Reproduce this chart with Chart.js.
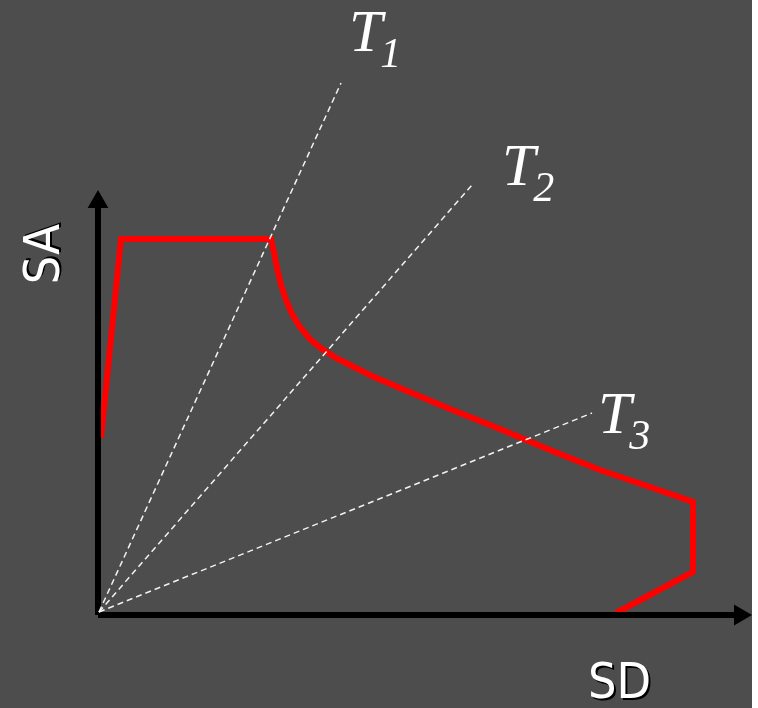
<!DOCTYPE html>
<html>
<head>
<meta charset="utf-8">
<script src="https://cdn.jsdelivr.net/npm/chart.js@4"></script>
<style>
  html, body { margin: 0; padding: 0; background: #ffffff; }
  #wrap { width: 752px; height: 708px; background: #4d4d4d; }
</style>
</head>
<body>
<div id="wrap"><canvas id="chart" width="752" height="708"></canvas></div>
<script>
// capacity curve (SD, SA) in arbitrary units
const curveSD = [3, 23, 173, 176, 179, 183, 188, 194, 202, 212, 224, 238, 254, 274, 302, 352, 402, 452, 502, 552, 595, 595, 518];
const curveSA = [177, 376, 376, 363, 347, 330, 315, 301, 288, 276, 266, 257, 249, 239, 227, 206, 186, 165, 145, 128, 113, 43, 2];

// period lines from origin
const periodNames = ['1', '2', '3'];
const periodEndSD = [243, 374, 494];
const periodEndSA = [532, 430, 202];

// axis extents
const axisMaxSD = 654;
const axisMaxSA = 425;

const arrowR = 12;

const labelOffsets = [[8, -32], [30, 0], [6, 20]];

const labelsPlugin = {
    id: 'labels',
    afterDatasetsDraw(chart) {
        const ctx = chart.ctx;
        const xs = chart.scales.x, ys = chart.scales.y;
        ctx.save();
        ctx.fillStyle = '#ffffff';
        ctx.textBaseline = 'alphabetic';
        ctx.textAlign = 'left';
        periodNames.forEach((n, i) => {
            const px = xs.getPixelForValue(periodEndSD[i]) + labelOffsets[i][0];
            const py = ys.getPixelForValue(periodEndSA[i]) + labelOffsets[i][1];
            ctx.font = 'italic 60px "Liberation Serif", "Times New Roman", serif';
            ctx.fillText('T', px, py);
            const w = ctx.measureText('T').width;
            ctx.font = 'italic 42px "Liberation Serif", "Times New Roman", serif';
            ctx.fillText(n, px + w - 2, py + 16);
        });

        // axis titles, white with a dark shadow
        ctx.font = '50px "DejaVu Sans Condensed", "DejaVu Sans", sans-serif';
        ctx.shadowColor = '#000000';
        ctx.shadowOffsetX = 2;
        ctx.shadowOffsetY = 2;
        ctx.shadowBlur = 0;
        ctx.textAlign = 'left';
        ctx.fillText('SD', 588, 698);

        ctx.translate(chart.chartArea.left - 52, 254);
        ctx.rotate(-Math.PI / 2);
        ctx.textAlign = 'center';
        ctx.textBaseline = 'middle';
        ctx.shadowOffsetX = 2;
        ctx.shadowOffsetY = -2;
        ctx.fillText('SA', 0, 0);
        ctx.restore();
    }
};

const periodSets = periodNames.map((n, i) => ({
    label: 'T' + n,
    data: [{ x: 1, y: 3 }, { x: periodEndSD[i], y: periodEndSA[i] }],
    borderColor: '#f2f2f2',
    borderWidth: 1.5,
    borderDash: [6, 4],
    pointRadius: 0,
    clip: false
}));

new Chart(document.getElementById('chart'), {
    type: 'scatter',
    data: {
        datasets: [
            ...periodSets,
            {
                label: 'SD axis',
                data: [{ x: 0, y: 0 }, { x: axisMaxSD - arrowR, y: 0 }],
                borderColor: '#000000',
                borderWidth: 6,
                borderCapStyle: 'butt',
                pointRadius: [0, arrowR],
                pointStyle: 'triangle',
                rotation: 90,
                pointBackgroundColor: '#000000',
                pointBorderWidth: 0,
                clip: false
            },
            {
                label: 'SA axis',
                data: [{ x: 0, y: 0 }, { x: 0, y: axisMaxSA - arrowR }],
                borderColor: '#000000',
                borderWidth: 6,
                borderCapStyle: 'butt',
                pointRadius: [0, arrowR],
                pointStyle: 'triangle',
                rotation: 0,
                pointBackgroundColor: '#000000',
                pointBorderWidth: 0,
                clip: false
            },
            {
                label: 'Capacity',
                data: curveSD.map((v, i) => ({ x: v, y: curveSA[i] })),
                borderColor: '#ff0000',
                borderWidth: 6,
                borderJoinStyle: 'miter',
                pointRadius: 0,
                tension: 0,
                clip: false
            }
        ]
    },
    options: {
        responsive: false,
        animation: false,
        showLine: true,
        layout: { autoPadding: false, padding: { left: 98, right: 0, top: 190, bottom: 93 } },
        scales: {
            x: { type: 'linear', min: 0, max: axisMaxSD, display: false },
            y: { type: 'linear', min: 0, max: axisMaxSA, display: false }
        },
        plugins: {
            legend: { display: false },
            tooltip: { enabled: false }
        }
    },
    plugins: [labelsPlugin]
});
</script>
</body>
</html>
